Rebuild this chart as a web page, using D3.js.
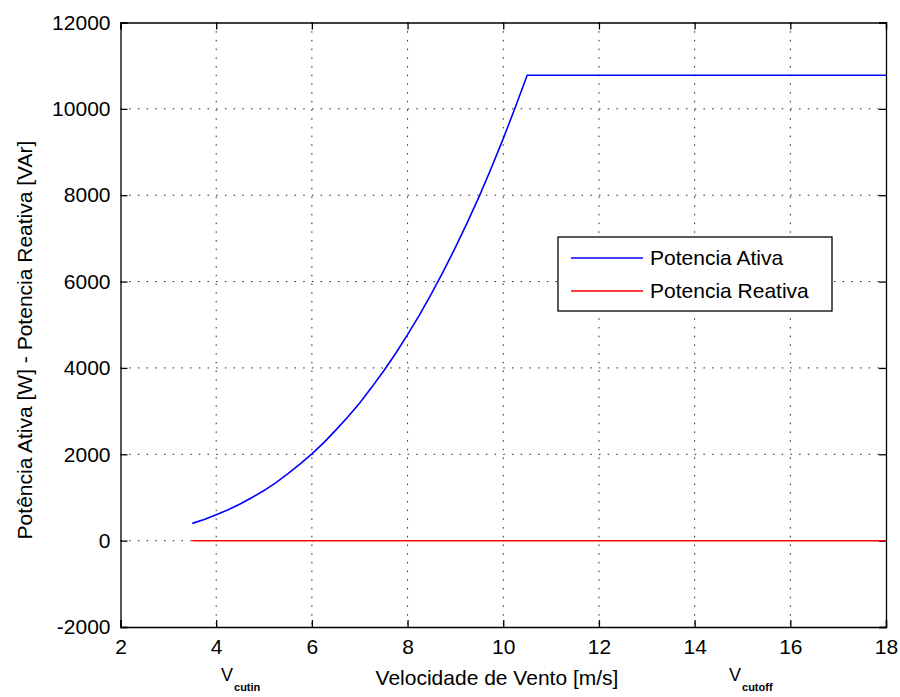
<!DOCTYPE html>
<html>
<head>
<meta charset="utf-8">
<script src="https://cdn.jsdelivr.net/npm/d3@7"></script>
<style>
  body { margin: 0; background: #fff; }
  text { font-family: "Liberation Sans", Arial, sans-serif; fill: #000; }
</style>
</head>
<body>
<div id="chart"></div>
<script>
// wind speed [m/s] and active power [W]
var speeds = [3.5, 3.75, 4, 4.25, 4.5, 4.75, 5, 5.25, 5.5, 5.75, 6, 6.25, 6.5, 6.75, 7, 7.25, 7.5, 7.75,
  8, 8.25, 8.5, 8.75, 9, 9.25, 9.5, 9.75, 10, 10.25, 10.5, 18];
var activePower = [400, 490, 600, 715, 850, 1000, 1160, 1345, 1550, 1770, 2010, 2270, 2560, 2865, 3190, 3550, 3930, 4335,
  4770, 5230, 5720, 6240, 6790, 7370, 7980, 8630, 9310, 10030, 10780, 10780];
var reactiveSpeeds = [3.5, 18];
var reactivePower = [0, 0];

var xTicks = [2, 4, 6, 8, 10, 12, 14, 16, 18];
var yTicks = [-2000, 0, 2000, 4000, 6000, 8000, 10000, 12000];
var seriesNames = ["Potencia Ativa", "Potencia Reativa"];
var seriesColors = ["#0000ff", "#ff0000"];

var svgWidth = 900;
var svgHeight = 697;

var margin = {
  top: 22.5,
  right: 14,
  bottom: 70,
  left: 120.5
};

var width = svgWidth - margin.left - margin.right;
var height = svgHeight - margin.top - margin.bottom;

var svg = d3.select("#chart")
  .append("svg")
  .attr("width", svgWidth)
  .attr("height", svgHeight);

var chartGroup = svg.append("g")
  .attr("transform", `translate(${margin.left}, ${margin.top})`);

var xScale = d3.scaleLinear().domain([2, 18]).range([0, width]);
var yScale = d3.scaleLinear().domain([-2000, 12000]).range([height, 0]);

// dotted grid
chartGroup.append("g")
  .selectAll("line")
  .data(xTicks.slice(1, -1))
  .enter()
  .append("line")
  .attr("x1", d => xScale(d)).attr("x2", d => xScale(d))
  .attr("y1", 0).attr("y2", height)
  .attr("stroke", "#222")
  .attr("stroke-dasharray", "1.5,7.2");

chartGroup.append("g")
  .selectAll("line")
  .data(yTicks.slice(1, -1))
  .enter()
  .append("line")
  .attr("y1", d => yScale(d)).attr("y2", d => yScale(d))
  .attr("x1", 0).attr("x2", width)
  .attr("stroke", "#222")
  .attr("stroke-dasharray", "1.5,7.2");

// axes, ticks inside on all four sides
var tickLen = 7;
var plainNum = d => String(d);
var bottomAxis = d3.axisBottom(xScale).tickValues(xTicks).tickSize(-tickLen).tickPadding(12).tickFormat(plainNum);
var leftAxis = d3.axisLeft(yScale).tickValues(yTicks).tickSize(-tickLen).tickPadding(10).tickFormat(plainNum);
var topAxis = d3.axisTop(xScale).tickValues(xTicks).tickSize(-tickLen).tickFormat("");
var rightAxis = d3.axisRight(yScale).tickValues(yTicks).tickSize(-tickLen).tickFormat("");

var gx = chartGroup.append("g").attr("transform", `translate(0, ${height})`).call(bottomAxis);
var gy = chartGroup.append("g").call(leftAxis);
var gt = chartGroup.append("g").call(topAxis);
var gr = chartGroup.append("g").attr("transform", `translate(${width}, 0)`).call(rightAxis);

[gx, gy, gt, gr].forEach(function(g) {
  g.select(".domain").attr("stroke", "#000").attr("stroke-width", 1.3);
  g.selectAll(".tick line").attr("stroke", "#000").attr("stroke-width", 1.3);
  g.selectAll("text").style("font-size", "21px").style("font-family", "Liberation Sans, Arial, sans-serif");
});

// series
var line = d3.line()
  .x(d => xScale(d[0]))
  .y(d => yScale(d[1]));

chartGroup.append("path")
  .datum(d3.zip(reactiveSpeeds, reactivePower))
  .attr("d", line)
  .attr("fill", "none")
  .attr("stroke", seriesColors[1])
  .attr("stroke-width", 1.5);

chartGroup.append("path")
  .datum(d3.zip(speeds, activePower))
  .attr("d", line)
  .attr("fill", "none")
  .attr("stroke", seriesColors[0])
  .attr("stroke-width", 1.6);

// legend
var legend = svg.append("g").attr("transform", "translate(558, 237)");
legend.append("rect")
  .attr("width", 274)
  .attr("height", 74)
  .attr("fill", "#fff")
  .attr("stroke", "#000")
  .attr("stroke-width", 1.3);

var legendItems = legend.selectAll("g.item")
  .data(seriesNames)
  .enter()
  .append("g")
  .attr("class", "item")
  .attr("transform", (d, i) => `translate(0, ${21 + i * 33})`);

legendItems.append("line")
  .attr("x1", 13).attr("x2", 85)
  .attr("stroke", (d, i) => seriesColors[i])
  .attr("stroke-width", 1.5);

legendItems.append("text")
  .attr("x", 92)
  .attr("dy", "0.35em")
  .style("font-size", "21px")
  .text(d => d);

// axis labels
svg.append("text")
  .attr("x", 497)
  .attr("y", 685)
  .style("text-anchor", "middle")
  .style("font-size", "21px")
  .text("Velocidade de Vento [m/s]");

svg.append("text")
  .attr("transform", "translate(32, 340) rotate(-90)")
  .style("text-anchor", "middle")
  .style("font-size", "21px")
  .text("Potência Ativa [W] - Potencia Reativa [VAr]");

// cut-in / cut-out markers under the axis
var vMarks = [{ x: 221, sub: "cutin" }, { x: 729, sub: "cutoff" }];
vMarks.forEach(function(m) {
  var t = svg.append("text")
    .attr("x", m.x)
    .attr("y", 681)
    .style("font-size", "18px");
  t.append("tspan").text("V");
  t.append("tspan")
    .attr("dx", 1)
    .attr("dy", 10)
    .style("font-size", "11px")
    .style("font-weight", "bold")
    .text(m.sub);
});
</script>
</body>
</html>
